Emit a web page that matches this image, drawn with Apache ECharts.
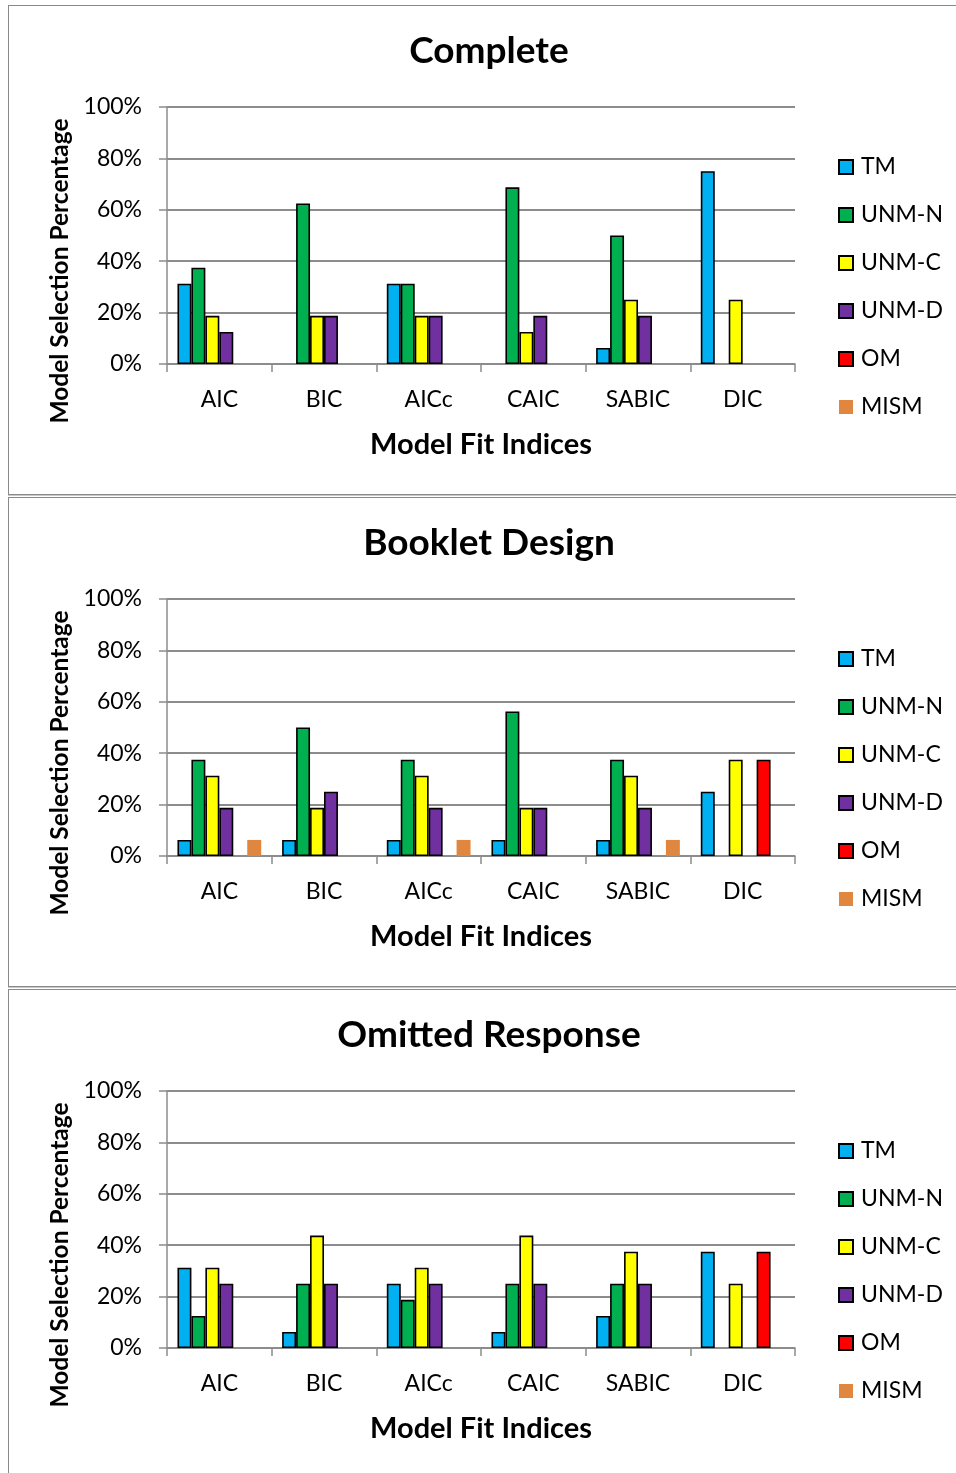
<!DOCTYPE html>
<html>
<head>
<meta charset="utf-8">
<script src="https://cdn.jsdelivr.net/npm/echarts@6/dist/echarts.min.js"></script>
<style>
  html, body { margin: 0; padding: 0; background: #fff; }
  body { width: 956px; height: 1473px; position: relative; overflow: hidden; }
  .frame { position: absolute; left: 8px; width: 960px; height: 488px;
           border: 1px solid #8a8a8a; box-shadow: 0 1px 0 #c8c8c8; }
  .panel { position: absolute; left: 0; width: 956px; height: 492px; }
</style>
</head>
<body>
<div class="frame" style="top:5px"></div>
<div class="frame" style="top:497px"></div>
<div class="frame" style="top:989px"></div>
<div class="panel" id="p0" style="top:0px"></div>
<div class="panel" id="p1" style="top:492px"></div>
<div class="panel" id="p2" style="top:984px"></div>
<script>
// Fit indices along the x axis
const categories = ['AIC', 'BIC', 'AICc', 'CAIC', 'SABIC', 'DIC'];
const seriesNames = ['TM', 'UNM-N', 'UNM-C', 'UNM-D', 'OM', 'MISM'];
const yTicks = [0, 20, 40, 60, 80, 100];

// Complete data: selection percentage per index
const completeTM   = [31.25, 0,     31.25, 0,     6.25,  75];
const completeUNMN = [37.5,  62.5,  31.25, 68.75, 50,    0];
const completeUNMC = [18.75, 18.75, 18.75, 12.5,  25,    25];
const completeUNMD = [12.5,  18.75, 18.75, 18.75, 18.75, 0];
const completeOM   = [0,     0,     0,     0,     0,     0];
const completeMISM = [0,     0,     0,     0,     0,     0];

// Booklet design
const bookletTM   = [6.25,  6.25,  6.25,  6.25,  6.25,  25];
const bookletUNMN = [37.5,  50,    37.5,  56.25, 37.5,  0];
const bookletUNMC = [31.25, 18.75, 31.25, 18.75, 31.25, 37.5];
const bookletUNMD = [18.75, 25,    18.75, 18.75, 18.75, 0];
const bookletOM   = [0,     0,     0,     0,     0,     37.5];
const bookletMISM = [6.25,  0,     6.25,  0,     6.25,  0];

// Omitted response
const omittedTM   = [31.25, 6.25,  25,    6.25,  12.5,  37.5];
const omittedUNMN = [12.5,  25,    18.75, 25,    25,    0];
const omittedUNMC = [31.25, 43.75, 31.25, 43.75, 37.5,  25];
const omittedUNMD = [25,    25,    25,    25,    25,    0];
const omittedOM   = [0,     0,     0,     0,     0,     37.5];
const omittedMISM = [0,     0,     0,     0,     0,     0];

const colors = ['#00B0F0', '#00B050', '#FFFF00', '#7030A0', '#FF0000', '#E0863E'];
const FONT = 'Lato, "Open Sans", sans-serif';
const GRID_COLOR = '#8c8c8c';

function buildOption(title, rows) {
  return {
    animation: false,
    textStyle: { fontFamily: FONT },
    title: {
      text: title, left: 484, top: 28, textAlign: 'center',
      textStyle: { fontFamily: FONT, fontSize: 37, fontWeight: 'bold', color: '#000' }
    },
    legend: {
      orient: 'vertical', left: 838, top: 155, padding: 0,
      itemWidth: 14, itemHeight: 14, itemGap: 24, icon: 'rect',
      data: seriesNames,
      textStyle: { fontFamily: FONT, fontSize: 23, color: '#000', lineHeight: 24, padding: [0, 0, 0, 3] }
    },
    graphic: [{
      type: 'text', x: 60, y: 271, rotation: Math.PI / 2,
      style: { text: 'Model Selection Percentage', font: 'bold 24.5px ' + FONT, fill: '#000',
               textAlign: 'center', textVerticalAlign: 'middle' }
    }],
    grid: { left: 167, top: 107, width: 628, height: 257 },
    xAxis: {
      type: 'category', data: categories,
      name: 'Model Fit Indices', nameLocation: 'middle', nameGap: 66,
      nameTextStyle: { fontFamily: FONT, fontSize: 29, fontWeight: 'bold', color: '#000' },
      axisLine: { lineStyle: { color: GRID_COLOR, width: 1.5 } },
      axisTick: { show: true, length: 8, lineStyle: { color: GRID_COLOR, width: 1.5 } },
      axisLabel: { fontFamily: FONT, fontSize: 23, color: '#000', margin: 24 }
    },
    yAxis: {
      type: 'value', min: 0, max: 100, interval: 20,
      axisLine: { show: true, lineStyle: { color: GRID_COLOR, width: 1.5 } },
      axisTick: { show: true, length: 8, lineStyle: { color: GRID_COLOR, width: 1.5 } },
      splitLine: { lineStyle: { color: GRID_COLOR, width: 1.8 } },
      axisLabel: {
        fontFamily: FONT, fontSize: 23, color: '#000', margin: 25,
        formatter: v => (yTicks.includes(v) ? v + '%' : '')
      }
    },
    series: seriesNames.map((name, i) => ({
      name, type: 'bar',
      // a zero share draws no bar at all
      data: rows[i].map(v => (v === 0 ? '-' : v)),
      barGap: '0%', barCategoryGap: '20%',
      itemStyle: {
        color: colors[i],
        borderColor: i === 5 ? colors[i] : '#000',
        borderWidth: i === 5 ? 0 : 1.6
      }
    }))
  };
}

const panels = [
  ['Complete', [completeTM, completeUNMN, completeUNMC, completeUNMD, completeOM, completeMISM]],
  ['Booklet Design', [bookletTM, bookletUNMN, bookletUNMC, bookletUNMD, bookletOM, bookletMISM]],
  ['Omitted Response', [omittedTM, omittedUNMN, omittedUNMC, omittedUNMD, omittedOM, omittedMISM]]
];

panels.forEach(([title, rows], k) => {
  const chart = echarts.init(document.getElementById('p' + k), null, { renderer: 'canvas' });
  chart.setOption(buildOption(title, rows));
});
</script>
</body>
</html>
